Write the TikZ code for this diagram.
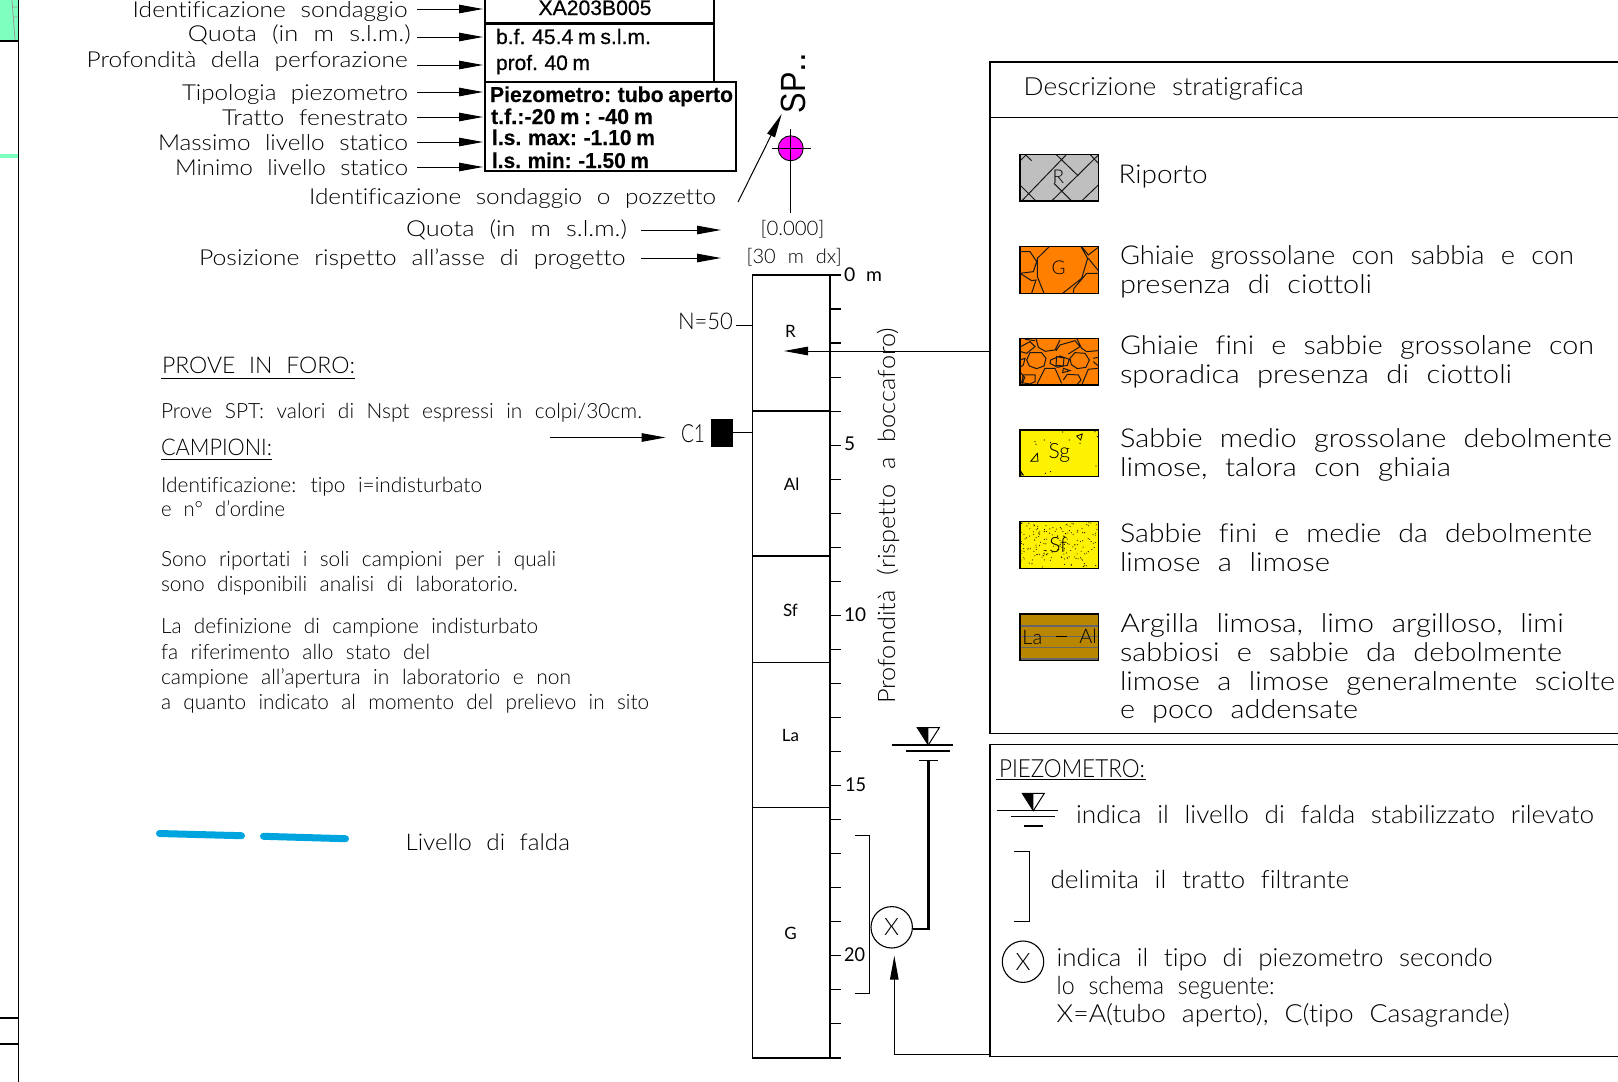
\documentclass[tikz,border=0pt]{standalone}
\usepackage{fontspec}
\usepackage{graphicx}
\usetikzlibrary{arrows.meta}
\setmainfont[WordSpace=2.2,RawFeature={-liga;-clig}]{Lato Light}
\newfontfamily\cadr[WordSpace=2.2,RawFeature={-liga;-clig}]{Lato}
\setsansfont{Liberation Sans}
\newfontfamily\arialm[FakeBold=0.5,WordSpace=0.8]{Liberation Sans}
\newfontfamily\arialb[FakeBold=0.3,WordSpace=0.8]{Liberation Sans Bold}
\newsavebox\fitbox
\newcommand{\fitw}[2]{\sbox\fitbox{#2}\pgfmathsetmacro\fitr{#1/\the\wd\fitbox}\scalebox{\fitr}[1]{\usebox\fitbox}}
% name, x (left), baseline y, width, font size, text
\newcommand{\T}[6]{\node[txt] (#1) at (#2,#3) {\fontsize{#5}{#5}\selectfont\fitw{#4}{#6}};}
\newcommand{\Tr}[6]{\node[txt] (#1) at (#2,#3) {\cadr\fontsize{#5}{#5}\selectfont\fitw{#4}{#6}};}
\tikzset{
  x=1pt,y=-1pt,
  txt/.style={anchor=base west,inner sep=0pt,outer sep=0pt},
  ctr/.style={anchor=base,inner sep=0pt,outer sep=0pt},
  arr/.style={line width=1pt,-{Triangle[length=24pt,width=8.5pt]}},
  uline/.style={line width=1pt},
  swatch/.style={line width=1.1pt,draw=black},
  hatch/.style={line width=1pt,draw=black!90},
  pin/.style={line width=1.2pt}
}
\definecolor{greenA}{HTML}{7FFFBF}
\definecolor{blueA}{HTML}{00A5DF}
\definecolor{gravel}{HTML}{FF8000}
\definecolor{clay}{HTML}{B88600}
\definecolor{magentaA}{HTML}{FF00FF}
\begin{document}
\begin{tikzpicture}
\useasboundingbox (0,0) rectangle (1618,1082);
\clip (0,0) rectangle (1618,1082);
\fill[white] (0,0) rectangle (1618,1082);
% left margin
\fill[greenA] (0,0) rectangle (18,40);
\draw[black!40,line width=.8pt] (12,0) -- (15,40) (12.5,7) -- (18,7) (13,17) -- (18,17);
\draw[line width=1.6pt] (0,40.7) -- (18,40.7);
\fill[greenA] (0,154) rectangle (18,157.5);
\draw[line width=1.3pt] (18.5,0) -- (18.5,1082);
\draw[line width=2pt] (0,1017.7) -- (18.5,1017.7) (0,1043.7) -- (18.5,1043.7);
% top boxes
\draw[line width=1.1pt] (485,82) rectangle (736,171);
\draw[line width=2.4pt] (485,-3) rectangle (714,23.5);
\draw[line width=2.4pt] (485,23.5) rectangle (714,82);
\node[ctr] (xa) at (595,15) {\arialm\fontsize{21}{21}\selectfont\fitw{113}{XA203B005}};
\node[txt] (bf) at (496,44) {\arialm\fontsize{21}{21}\selectfont\fitw{155}{b.f. 45.4 m s.l.m.}};
\node[txt] (prof) at (496,70) {\arialm\fontsize{21}{21}\selectfont\fitw{94}{prof. 40 m}};
\node[txt] (pz) at (490,102) {\arialb\fontsize{21.5}{21.5}\selectfont\fitw{243}{Piezometro: tubo aperto}};
\node[txt] (tf) at (491,124) {\arialb\fontsize{21.5}{21.5}\selectfont\fitw{162}{t.f.:-20 m : -40 m}};
\node[txt] (lmax) at (492,145) {\arialb\fontsize{21.5}{21.5}\selectfont\fitw{163}{l.s. max: -1.10 m}};
\node[txt] (lmin) at (492,168) {\arialb\fontsize{21.5}{21.5}\selectfont\fitw{157}{l.s. min: -1.50 m}};
% top-left labels
\T{l1}{132.7}{17.3}{275}{22}{Identificazione sondaggio}
\T{l2}{187.8}{41.7}{223}{22}{Quota (in m s.l.m.)}
\T{l3}{86.7}{67.7}{321}{22}{Profondità della perforazione}
\T{l4}{182}{100}{226}{22}{Tipologia piezometro}
\T{l5}{222}{125}{186}{22}{Tratto fenestrato}
\T{l6}{158}{150}{250}{22}{Massimo livello statico}
\T{l7}{175}{175}{233}{22}{Minimo livello statico}
\T{l8}{309}{204.3}{407}{22}{Identificazione sondaggio o pozzetto}
\T{l9}{406}{236.7}{221}{22}{Quota (in m s.l.m.)}
\T{l10}{199}{265}{426.5}{22}{Posizione rispetto all'asse di progetto}
\foreach \n/\yy in {1/9,2/37,3/65,4/92,5/117,6/142,7/167}{
  \coordinate (as\n) at (417,\yy);
  \coordinate (ae\n) at (483,\yy);
  \draw[arr] (as\n) -- (ae\n);
}
\coordinate (a8s) at (641,230); \coordinate (a8e) at (721,230);
\coordinate (a9s) at (641,258); \coordinate (a9e) at (721,258);
\draw[arr] (a8s) -- (a8e);
\draw[arr] (a9s) -- (a9e);
\coordinate (dgs) at (738,202); \coordinate (dge) at (781.7,114);
\draw[arr] (dgs) -- (dge);
% borehole symbol
\node[circle,fill=magentaA,draw=black,line width=.9pt,minimum size=25pt,inner sep=0pt] (hole) at (790.7,148.3) {};
\draw[line width=1pt] (771.7,148.3) -- (810.7,148.3) (790.7,129) -- (790.7,213);
\node[anchor=base west,rotate=90,inner sep=0pt] (sp) at (805,113.5) {\sffamily\fontsize{35}{35}\selectfont\fitw{41}{SP}..};
\T{q0}{760.5}{235}{64}{20}{[0.000]}
\T{q1}{746.7}{263}{95}{20}{[30 m dx]}
% column
\draw[line width=1.2pt] (830,275) -- (752.3,275) -- (752.3,1058) -- (830,1058);
\draw[line width=2pt] (830,275) -- (830,1058);
\foreach \yy in {411,556,662.5,807.3}{\draw[line width=1.2pt] (752.3,\yy) -- (830,\yy);}
\foreach \i in {0,...,23}{\pgfmathsetmacro\ty{275+34.04*\i}\draw[line width=1.2pt] (830,\ty) -- (841,\ty);}
\node[ctr] (lr) at (790.5,337) {\cadr\fontsize{17}{17}\selectfont R};
\node[ctr] (lal) at (791.5,490) {\cadr\fontsize{17}{17}\selectfont Al};
\node[ctr] (lsf) at (790.5,616) {\cadr\fontsize{17}{17}\selectfont Sf};
\node[ctr] (lla) at (790.5,741) {\cadr\fontsize{17}{17}\selectfont La};
\node[ctr] (lg) at (790.5,939) {\cadr\fontsize{17}{17}\selectfont G};
\Tr{n0}{844}{281}{38}{19}{0 m}
\Tr{n5}{844}{450}{11}{19}{5}
\Tr{n10}{844}{621}{22}{19}{10}
\Tr{n15}{845}{791}{21}{19}{15}
\Tr{n20}{844}{961}{21}{19}{20}
\node[anchor=base west,rotate=90,inner sep=0pt] (prof2) at (895,704) {\fontsize{24}{24}\selectfont\fitw{376}{Profondità (rispetto a boccaforo)}};
% N and C1
\T{n50}{678}{329.5}{55}{23}{N=50}
\draw[line width=1pt] (736,325.7) -- (752.3,325.7);
\T{c1}{681}{442}{24}{25}{C1}
\node[fill=black,minimum width=21.7pt,minimum height=28pt,inner sep=0pt] (c1box) at (721.8,433) {};
\draw[line width=1.1pt] (c1box.east) ++(0,-.3) -- (752.3,432.7);
\coordinate (c1s) at (550,437.5); \coordinate (c1e) at (665.6,437.5);
\draw[arr] (c1s) -- (c1e);
% left text
\T{p1}{162}{373}{193}{23}{PROVE IN FORO:}
\draw[uline] (161,378.7) -- (355,378.7);
\T{p2}{161}{418}{481}{21}{Prove SPT: valori di Nspt espressi in colpi/30cm.}
\T{p3}{161}{455}{111}{23}{CAMPIONI:}
\draw[uline] (161,459.5) -- (272.4,459.5);
\T{p4}{161}{492}{321}{21}{Identificazione: tipo i=indisturbato}
\T{p5}{161}{516}{124}{21}{e n° d'ordine}
\T{p6}{161}{566}{395}{21}{Sono riportati i soli campioni per i quali}
\T{p7}{161}{591}{357}{21}{sono disponibili analisi di laboratorio.}
\T{p8}{161}{633}{377}{21}{La definizione di campione indisturbato}
\T{p9}{161}{659}{269}{21}{fa riferimento allo stato del}
\T{p10}{161}{684}{410}{21}{campione all'apertura in laboratorio e non}
\T{p11}{161}{709}{488}{21}{a quanto indicato al momento del prelievo in sito}
\draw[blueA,line width=7pt,line cap=round] (159.5,833.5) -- (241.5,835.7);
\draw[blueA,line width=7pt,line cap=round] (263.5,836.3) -- (345.5,838.7);
\T{lf}{405.5}{850}{164.5}{23}{Livello di falda}
% legend box 1
\draw[line width=1.2pt] (1625,62) -- (990,62) -- (990,733.5) -- (1625,733.5);
\draw[line width=1.2pt] (990,117.6) -- (1625,117.6);
\coordinate (ls) at (990,351); \coordinate (le) at (784,351);
\draw[arr] (ls) -- (le);
\T{d0}{1023.7}{95.5}{280}{25}{Descrizione stratigrafica}
\T{d1}{1118.6}{183}{89}{26}{Riporto}
\T{d2}{1120}{264}{454}{26}{Ghiaie grossolane con sabbia e con}
\T{d3}{1120}{293}{252}{26}{presenza di ciottoli}
\T{d4}{1120}{354}{474}{26}{Ghiaie fini e sabbie grossolane con}
\T{d5}{1120}{383}{392}{26}{sporadica presenza di ciottoli}
\T{d6}{1120}{447}{492}{26}{Sabbie medio grossolane debolmente}
\T{d7}{1120}{476}{331}{26}{limose, talora con ghiaia}
\T{d8}{1120}{542}{472}{26}{Sabbie fini e medie da debolmente}
\T{d9}{1120}{571}{210}{26}{limose a limose}
\T{d10}{1120.7}{632}{443}{26}{Argilla limosa, limo argilloso, limi}
\T{d11}{1120}{661}{442}{26}{sabbiosi e sabbie da debolmente}
\T{d12}{1120}{690}{495}{26}{limose a limose generalmente sciolte}
\T{d13}{1120}{718}{238}{26}{e poco addensate}
% swatches (coordinates in 3x zoom pixels)
\begin{scope}[shift={(980,130)},x=.3333pt,y=-.3333pt]
  \begin{scope}
    \clip (120,73) rectangle (355,213);
    \fill[black!25] (120,73) rectangle (355,213);
    \draw[hatch] (125,213) -- (260,73) (215,213) -- (355,75) (305,213) -- (355,165) (120,93) -- (140,73)
      (120,165) -- (168,213) (135,73) -- (155,92) (228,73) -- (295,138) (222,160) -- (275,213) (330,73) -- (355,100);
  \end{scope}
  \draw[swatch] (120,73) rectangle (355,213);
  \node[inner sep=0pt] (sr) at (235,140) {\fontsize{19}{19}\selectfont R};
  \begin{scope}
    \clip (120,350) rectangle (355,490);
    \fill[gravel] (120,350) rectangle (355,490);
    \draw[hatch] (208,350) -- (172,385) -- (172,440) -- (192,490)
      (303,350) -- (323,385) -- (305,445) -- (248,490)
      (305,350) -- (325,375) -- (355,352) (325,385) -- (355,422)
      (355,430) -- (320,430) -- (282,475) -- (280,490)
      (120,365) -- (150,365) -- (170,395) -- (160,425) -- (120,430) -- (155,452) -- (168,450) -- (155,490);
  \end{scope}
  \draw[swatch] (120,350) rectangle (355,490);
  \node[inner sep=0pt] (sg) at (236,414) {\fontsize{19}{19}\selectfont G};
  \begin{scope}
    \clip (120,625) rectangle (355,765);
    \fill[gravel] (120,625) rectangle (355,765);
    \draw[hatch] (150,668) -- (185,668) -- (198,685) -- (192,708) -- (170,716) -- (148,708) -- (140,690) -- cycle
      (285,668) -- (315,670) -- (328,690) -- (318,712) -- (292,716) -- (274,704) -- (270,685) -- cycle
      (212,690) -- (240,678) -- (268,688) -- (262,706) -- (232,712) -- (210,700) -- cycle
      (230,680) -- (252,684) -- (250,708) -- (228,706) -- cycle
      (168,625) -- (175,652) -- (195,664) -- (225,660) -- (240,630)
      (290,625) -- (305,655) -- (320,665) -- (355,662)
      (228,662) -- (240,645) -- (285,632) -- (300,650) -- (265,672)
      (122,650) -- (150,635) -- (165,650) -- (140,670) -- (122,665)
      (135,628) -- (165,632)
      (120,690) -- (135,685) -- (130,705) -- (120,712)
      (170,765) -- (195,715) -- (225,715) -- (245,760)
      (130,735) -- (165,735) -- (165,755) -- (150,762) -- (125,758) -- cycle
      (250,750) -- (262,733) -- (295,735) -- (303,750) -- (290,765)
      (250,715) -- (270,722) -- (248,728) -- cycle
      (305,765) -- (325,718) -- (355,715)
      (340,685) -- (355,682) (340,695) -- (355,708)
      (120,725) -- (135,745) (125,765) -- (135,740);
  \end{scope}
  \draw[swatch] (120,625) rectangle (355,765);
\end{scope}
\begin{scope}[shift={(980,410)},x=.3333pt,y=-.3333pt]
  \fill[yellow] (120,60) rectangle (355,200);
  \draw[line width=.8pt] (152,154) -- (174,154) -- (172,130) -- cycle
    (290,78) -- (307,72) -- (302,90) -- cycle (121,195) -- (130,195) -- (124,186) -- cycle;
  \foreach \px/\py in {165/95, 168/103, 193/90, 212/98, 248/66, 268/90, 345/65, 352/80, 348/168, 196/190, 212/185, 300/100}{
    \fill (\px,\py) circle[radius=.6pt];
  }
  \draw[swatch] (120,60) rectangle (355,200);
  \node[inner sep=0pt] (ssg) at (238,129) {\fontsize{21}{21}\selectfont Sg};
  \fill[yellow] (120,335) rectangle (355,476);
  \pgfmathsetseed{11}
  \foreach \k in {1,...,170}{
    \pgfmathsetmacro\px{122+231*rnd}
    \pgfmathsetmacro\py{338+135*rnd}
    \fill (\px,\py) circle[radius=.55pt];
  }
  \draw[swatch] (120,335) rectangle (355,476);
  \node[inner sep=0pt] (ssf) at (235,405) {\fontsize{21}{21}\selectfont Sf};
  \fill[clay] (120,612) rectangle (355,752);
  \draw[line width=1.2pt,black!60] (120,648) -- (355,648) (120,680) -- (355,680) (120,713) -- (355,713);
  \draw[line width=2pt,black!60] (120,747) -- (355,747);
  \draw[swatch] (120,612) rectangle (355,752);
  \node[inner sep=0pt] (sla) at (157,682) {\fontsize{20}{20}\selectfont La};
  \draw[line width=.9pt] (228,680) -- (262,680);
  \node[inner sep=0pt] (sal) at (324,680) {\fontsize{20}{20}\selectfont Al};
\end{scope}
% legend box 2
\draw[line width=1.2pt] (1625,744.5) -- (990,744.5) -- (990,1056.7) -- (1625,1056.7);
\T{e0}{999}{777}{146}{25}{PIEZOMETRO:}
\draw[uline] (996,779.3) -- (1146,779.3);
\T{e1}{1076}{823}{518}{25}{indica il livello di falda stabilizzato rilevato}
\T{e2}{1050.5}{888}{298.5}{25}{delimita il tratto filtrante}
\T{e3}{1056.7}{966.5}{436}{25}{indica il tipo di piezometro secondo}
\T{e4}{1056.7}{994.5}{218}{25}{lo schema seguente:}
\T{e5}{1056.7}{1022.5}{453}{25}{X=A(tubo aperto), C(tipo Casagrande)}
% water-level symbols
\foreach \nm/\dx/\dy in {wa/0/0,wb/105/65.7}{
  \begin{scope}[shift={(\dx,\dy)}]
    \coordinate (\nm) at (928.3,745);
    \fill[white] (917.3,727.7) -- (939.3,727.7) -- (\nm) -- cycle;
    \fill[black] (917.3,727.7) -- (928.3,727.7) -- (\nm) -- cycle;
    \draw[line width=1pt] (917.3,727.7) -- (939.3,727.7) -- (\nm) -- cycle;
    \draw[line width=1.1pt] (891.7,745) -- (953,745) (905.7,751) -- (950,751) (919,760.3) -- (938,760.3);
  \end{scope}
}
% piezometer on column
\node[circle,draw=black,line width=1.1pt,minimum size=41.4pt,inner sep=0pt] (xa1) at (891.7,927.3) {\fontsize{24}{24}\selectfont X};
\coordinate (pt) at (928.3,760.3);
\draw[line width=2.4pt] (pt) -- (928.3,929) -- (xa1.east |- 0,929);
\draw[pin] (855,835.7) -- (869.3,835.7) -- (869.3,993.7) -- (855,993.7);
\coordinate (ua) at (990,1054.3); \coordinate (ub) at (894.3,1054.3); \coordinate (uc) at (894.3,955.7);
\draw[arr] (ua) -- (ub) -- (uc);
% legend symbols
\draw[pin] (1014,851.3) -- (1029.3,851.3) -- (1029.3,921.7) -- (1014,921.7);
\node[circle,draw=black,line width=1.1pt,minimum size=41.4pt,inner sep=0pt] (xa2) at (1023,961.7) {\fontsize{24}{24}\selectfont X};
\end{tikzpicture}
\end{document}
